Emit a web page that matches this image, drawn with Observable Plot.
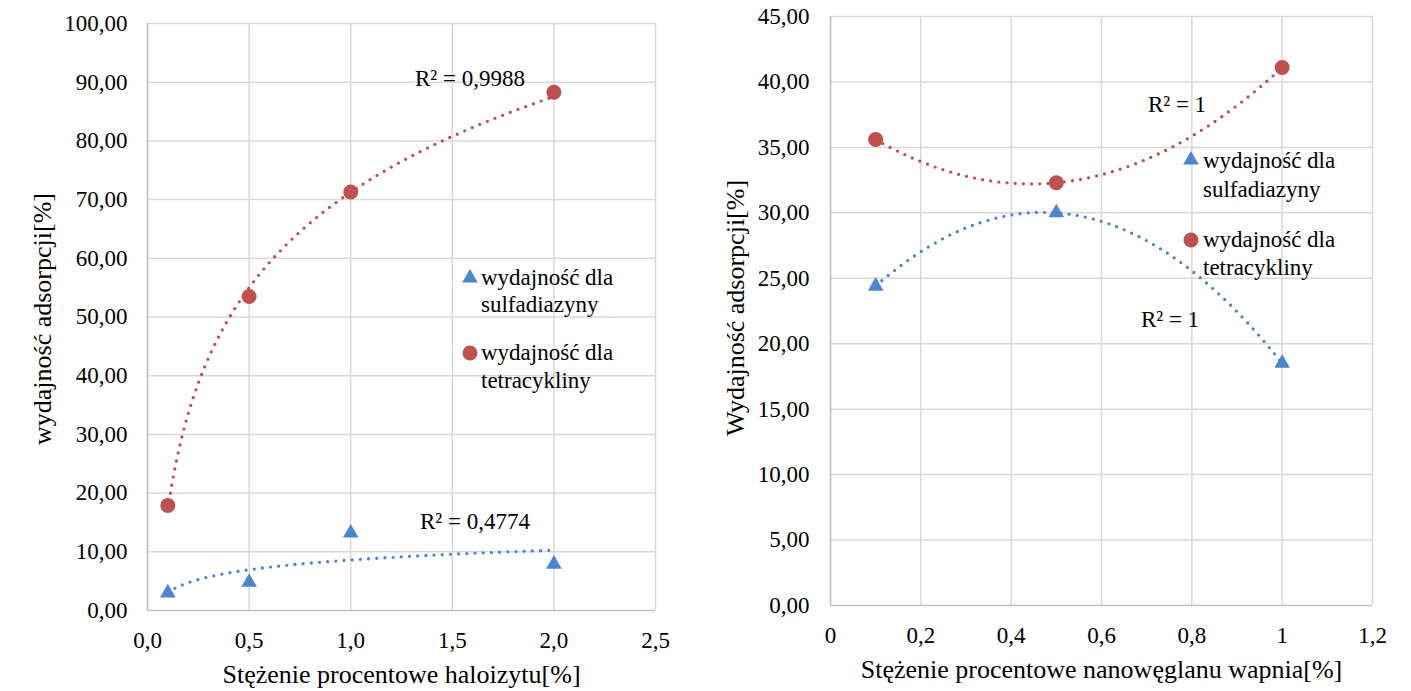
<!DOCTYPE html>
<html>
<head>
<meta charset="utf-8">
<script src="https://cdn.jsdelivr.net/npm/d3@7"></script>
<script src="https://cdn.jsdelivr.net/npm/@observablehq/plot@0.6"></script>
<style>
  html, body { margin: 0; padding: 0; background: #fff; }
  #wrap { position: relative; width: 1411px; height: 691px; overflow: hidden; color: #000; }
  #wrap, #wrap *, #wrap svg text { font-family: 'Liberation Serif', serif !important; }
  .panel { position: absolute; top: 0; }
  .note { position: absolute; font-size: 23px; white-space: nowrap; transform: translate(-50%, -50%); line-height: 1; }
  .leg { position: absolute; font-size: 23px; line-height: 28px; white-space: nowrap; }
</style>
</head>
<body>
<div id="wrap"></div>
<script>
// ---------------- data ----------------
const seriesNames = ["wydajność dla sulfadiazyny", "wydajność dla tetracykliny"];

// left chart: halloysite concentration
const haloX = [0.1, 0.5, 1.0, 2.0];
const haloSulfa = [3.0, 4.8, 13.2, 7.9];
const haloTetra = [17.9, 53.5, 71.3, 88.3];
const haloXTicks = [0, 0.5, 1.0, 1.5, 2.0, 2.5];
const haloYTicks = [0, 10, 20, 30, 40, 50, 60, 70, 80, 90, 100];
const haloR2 = ["R² = 0,4774", "R² = 0,9988"];
const haloXLabel = "Stężenie procentowe haloizytu[%]";
const haloYLabel = "wydajność adsorpcji[%]";

// right chart: nano calcium carbonate concentration
const nanoX = [0.1, 0.5, 1.0];
const nanoSulfa = [24.4, 30.0, 18.5];
const nanoTetra = [35.6, 32.3, 41.1];
const nanoXTicks = [0, 0.2, 0.4, 0.6, 0.8, 1, 1.2];
const nanoYTicks = [0, 5, 10, 15, 20, 25, 30, 35, 40, 45];
const nanoR2 = ["R² = 1", "R² = 1"];
const nanoXLabel = "Stężenie procentowe nanowęglanu wapnia[%]";
const nanoYLabel = "Wydajność adsorpcji[%]";

// ---------------- styling ----------------
const BLUE = "#4a86d2";
const RED = "#c0504d";
const GRID = "#d9d9d9";
const AXIS = "#bfbfbf";
const FONT = "'Liberation Serif', serif";

function serif(el) { el.style.setProperty("font-family", FONT, "important"); }

// ---------------- trendline fitting (least squares) ----------------
function solve3(A, b) {
  const M = A.map((r, i) => [...r, b[i]]);
  const n = M.length;
  for (let i = 0; i < n; i++) {
    let p = i;
    for (let k = i + 1; k < n; k++) if (Math.abs(M[k][i]) > Math.abs(M[p][i])) p = k;
    [M[i], M[p]] = [M[p], M[i]];
    for (let k = i + 1; k < n; k++) {
      const f = M[k][i] / M[i][i];
      for (let j = i; j <= n; j++) M[k][j] -= f * M[i][j];
    }
  }
  const x = new Array(n).fill(0);
  for (let i = n - 1; i >= 0; i--) {
    let s = M[i][n];
    for (let j = i + 1; j < n; j++) s -= M[i][j] * x[j];
    x[i] = s / M[i][i];
  }
  return x;
}
function logFit(xs, ys) {
  const lx = xs.map(Math.log);
  const mx = d3.mean(lx), my = d3.mean(ys);
  const a = d3.sum(lx, (v, i) => (v - mx) * (ys[i] - my)) / d3.sum(lx, v => (v - mx) ** 2);
  const b = my - a * mx;
  return x => a * Math.log(x) + b;
}
function polyFit2(xs, ys) {
  const S = k => d3.sum(xs, x => x ** k);
  const T = k => d3.sum(xs, (x, i) => x ** k * ys[i]);
  const [c0, c1, c2] = solve3([[S(0), S(1), S(2)], [S(1), S(2), S(3)], [S(2), S(3), S(4)]], [T(0), T(1), T(2)]);
  return x => c0 + c1 * x + c2 * x * x;
}
function curve(fn, xs) {
  const lo = d3.min(xs), hi = d3.max(xs);
  return d3.range(0, 201).map(i => {
    const x = lo + (hi - lo) * i / 200;
    return { x, y: fn(x) };
  });
}

const comma = s => s.replace(".", ",");

function makeChart(cfg) {
  const sulfaPts = cfg.xs.map((x, i) => ({ x, y: cfg.sulfa[i] }));
  const tetraPts = cfg.xs.map((x, i) => ({ x, y: cfg.tetra[i] }));
  const sulfaTrend = curve(cfg.fit(cfg.xs, cfg.sulfa), cfg.xs);
  const tetraTrend = curve(cfg.fit(cfg.xs, cfg.tetra), cfg.xs);
  const dotted = { strokeWidth: 3.3, strokeDasharray: "0 8.2", strokeLinecap: "round" };
  const svg = Plot.plot({
    width: cfg.width, height: cfg.height,
    marginLeft: cfg.ml, marginRight: cfg.mr, marginTop: cfg.mt, marginBottom: cfg.mb,
    style: { background: "transparent", color: "#000", overflow: "visible" },
    x: { domain: [cfg.xTicks[0], cfg.xTicks[cfg.xTicks.length - 1]] },
    y: { domain: [cfg.yTicks[0], cfg.yTicks[cfg.yTicks.length - 1]] },
    marks: [
      Plot.gridX(cfg.xTicks.slice(1), { stroke: GRID, strokeOpacity: 1, strokeWidth: 1.5 }),
      Plot.gridY(cfg.yTicks.slice(1), { stroke: GRID, strokeOpacity: 1, strokeWidth: 1.5 }),
      Plot.ruleX([cfg.xTicks[0]], { stroke: AXIS, strokeWidth: 1.6 }),
      Plot.ruleY([cfg.yTicks[0]], { stroke: AXIS, strokeWidth: 1.6 }),
      Plot.axisY(cfg.yTicks, { tickSize: 0, tickPadding: cfg.yPad, tickFormat: d => comma(d3.format(".2f")(d)), fontSize: 23, label: null }),
      Plot.axisX(cfg.xTicks, { tickSize: 0, tickPadding: 21, tickFormat: cfg.xFmt, fontSize: 23, label: null }),
      Plot.text([cfg.yLabel], { frameAnchor: "left", textAnchor: "middle", lineAnchor: "middle", rotate: -90, dx: -cfg.yLabelOff, dy: cfg.yLabelDy, fontSize: 26, fill: "#000" }),
      Plot.text([cfg.xLabel], { frameAnchor: "bottom", textAnchor: "middle", lineAnchor: "middle", dy: cfg.xLabelDy, fontSize: 26, fill: "#000" }),
      Plot.line(tetraTrend, { x: "x", y: "y", stroke: RED, ...dotted }),
      Plot.line(sulfaTrend, { x: "x", y: "y", stroke: BLUE, ...dotted }),
      Plot.dot(sulfaPts, { x: "x", y: "y", symbol: "triangle", r: 5.8, fill: BLUE, stroke: "none" }),
      Plot.dot(tetraPts, { x: "x", y: "y", symbol: "circle", r: 7.5, fill: RED, stroke: "none" })
    ]
  });
  serif(svg);
  svg.querySelectorAll("g, text").forEach(t => { t.setAttribute("font-family", "Liberation Serif"); serif(t); });
  return svg;
}

const wrap = document.getElementById("wrap");

function addPanel(left, chart) {
  const d = document.createElement("div");
  d.className = "panel";
  d.style.left = left + "px";
  d.appendChild(chart);
  wrap.appendChild(d);
}

addPanel(0, makeChart({
  xs: haloX, sulfa: haloSulfa, tetra: haloTetra, fit: logFit,
  xTicks: haloXTicks, yTicks: haloYTicks, xFmt: d => comma(d3.format(".1f")(d)),
  xLabel: haloXLabel, yLabel: haloYLabel,
  width: 700, height: 691, ml: 147, mr: 45, mt: 23, mb: 81, yPad: 20, yLabelOff: 105, yLabelDy: 2, xLabelDy: 64
}));
addPanel(700, makeChart({
  xs: nanoX, sulfa: nanoSulfa, tetra: nanoTetra, fit: polyFit2,
  xTicks: nanoXTicks, yTicks: nanoYTicks, xFmt: d => comma(String(d)),
  xLabel: nanoXLabel, yLabel: nanoYLabel,
  width: 711, height: 691, ml: 130, mr: 39, mt: 16, mb: 86, yPad: 21, yLabelOff: 95, yLabelDy: -3, xLabelDy: 64
}));

// ---------------- R² annotations ----------------
function note(text, cx, cy) {
  const n = document.createElement("div");
  n.className = "note";
  serif(n);
  n.textContent = text;
  n.style.left = cx + "px";
  n.style.top = cy + "px";
  wrap.appendChild(n);
}
note(haloR2[1], 470, 78);
note(haloR2[0], 475, 521);
note(nanoR2[1], 1177, 104);
note(nanoR2[0], 1170, 319);

// ---------------- legends ----------------
function legendItem(name, symbol, color, sx, sy, tx, lineGap) {
  const words = name.split(" ");
  const line1 = words.slice(0, 2).join(" ");
  const line2 = words.slice(2).join(" ");
  const el = document.createElement("div");
  el.className = "leg";
  serif(el);
  el.style.left = tx + "px";
  el.style.top = (sy - 14) + "px";
  el.style.lineHeight = lineGap + "px";
  el.innerHTML = line1 + "<br>" + line2;
  wrap.appendChild(el);
  const ns = "http://www.w3.org/2000/svg";
  const svg = document.createElementNS(ns, "svg");
  svg.setAttribute("width", 20); svg.setAttribute("height", 20);
  svg.style.position = "absolute";
  svg.style.left = (sx - 10) + "px"; svg.style.top = (sy - 10) + "px";
  svg.style.overflow = "visible";
  const p = document.createElementNS(ns, "path");
  const sym = symbol === "triangle" ? d3.symbolTriangle : d3.symbolCircle;
  const r = symbol === "triangle" ? 5.8 : 7.5;
  p.setAttribute("d", d3.symbol(sym, Math.PI * r * r)());
  p.setAttribute("transform", "translate(10,10)");
  p.setAttribute("fill", color);
  svg.appendChild(p);
  wrap.appendChild(svg);
}
legendItem(seriesNames[0], "triangle", BLUE, 470, 278, 481, 27);
legendItem(seriesNames[1], "circle", RED, 470, 353, 481, 28);
legendItem(seriesNames[0], "triangle", BLUE, 1191, 160, 1203, 29);
legendItem(seriesNames[1], "circle", RED, 1191, 240, 1203, 28);
</script>
</body>
</html>
